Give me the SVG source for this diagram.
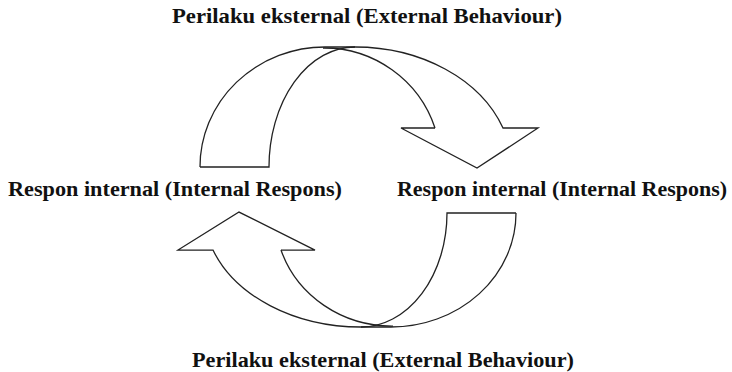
<svg xmlns="http://www.w3.org/2000/svg" xmlns:xlink="http://www.w3.org/1999/xlink" width="732" height="372" viewBox="0 0 732 372">
  <style>
    .lbl { font-family: "Liberation Serif", "Times New Roman", serif; font-weight: bold; font-size: 21px; fill: #111; }
    .arr path { fill: none; stroke: #222; stroke-width: 1.3; stroke-linejoin: miter; vector-effect: non-scaling-stroke; }
  </style>
  <defs>
    <g id="curvedArrow" class="arr">
      <path d="M200,167 A125,120 0 0 1 325,47 L355,47 A157,122 0 0 1 503,128 L538,128 L477,168 L401,128 L435,128"/>
      <path d="M435,128 A117,117 0 0 0 323,48"/>
      <path d="M200,167 L269,167 A86,120 0 0 1 355,47"/>
    </g>
  </defs>
  <rect width="732" height="372" fill="#ffffff"/>
  <g id="connectors">
    <use id="arrow-top" xlink:href="#curvedArrow" href="#curvedArrow"/>
    <use id="arrow-bottom" xlink:href="#curvedArrow" href="#curvedArrow" transform="matrix(-1 0 0 -0.95 716 371.65)"/>
  </g>
  <g id="node-top">
    <text class="lbl" x="172" y="23" textLength="390" lengthAdjust="spacingAndGlyphs">Perilaku eksternal (External Behaviour)</text>
  </g>
  <g id="node-left">
    <text class="lbl" x="8" y="196" textLength="334" lengthAdjust="spacingAndGlyphs">Respon internal (Internal Respons)</text>
  </g>
  <g id="node-right">
    <text class="lbl" x="397" y="196" textLength="330" lengthAdjust="spacingAndGlyphs">Respon internal (Internal Respons)</text>
  </g>
  <g id="node-bottom">
    <text class="lbl" x="192" y="367" textLength="382" lengthAdjust="spacingAndGlyphs">Perilaku eksternal (External Behaviour)</text>
  </g>
</svg>
